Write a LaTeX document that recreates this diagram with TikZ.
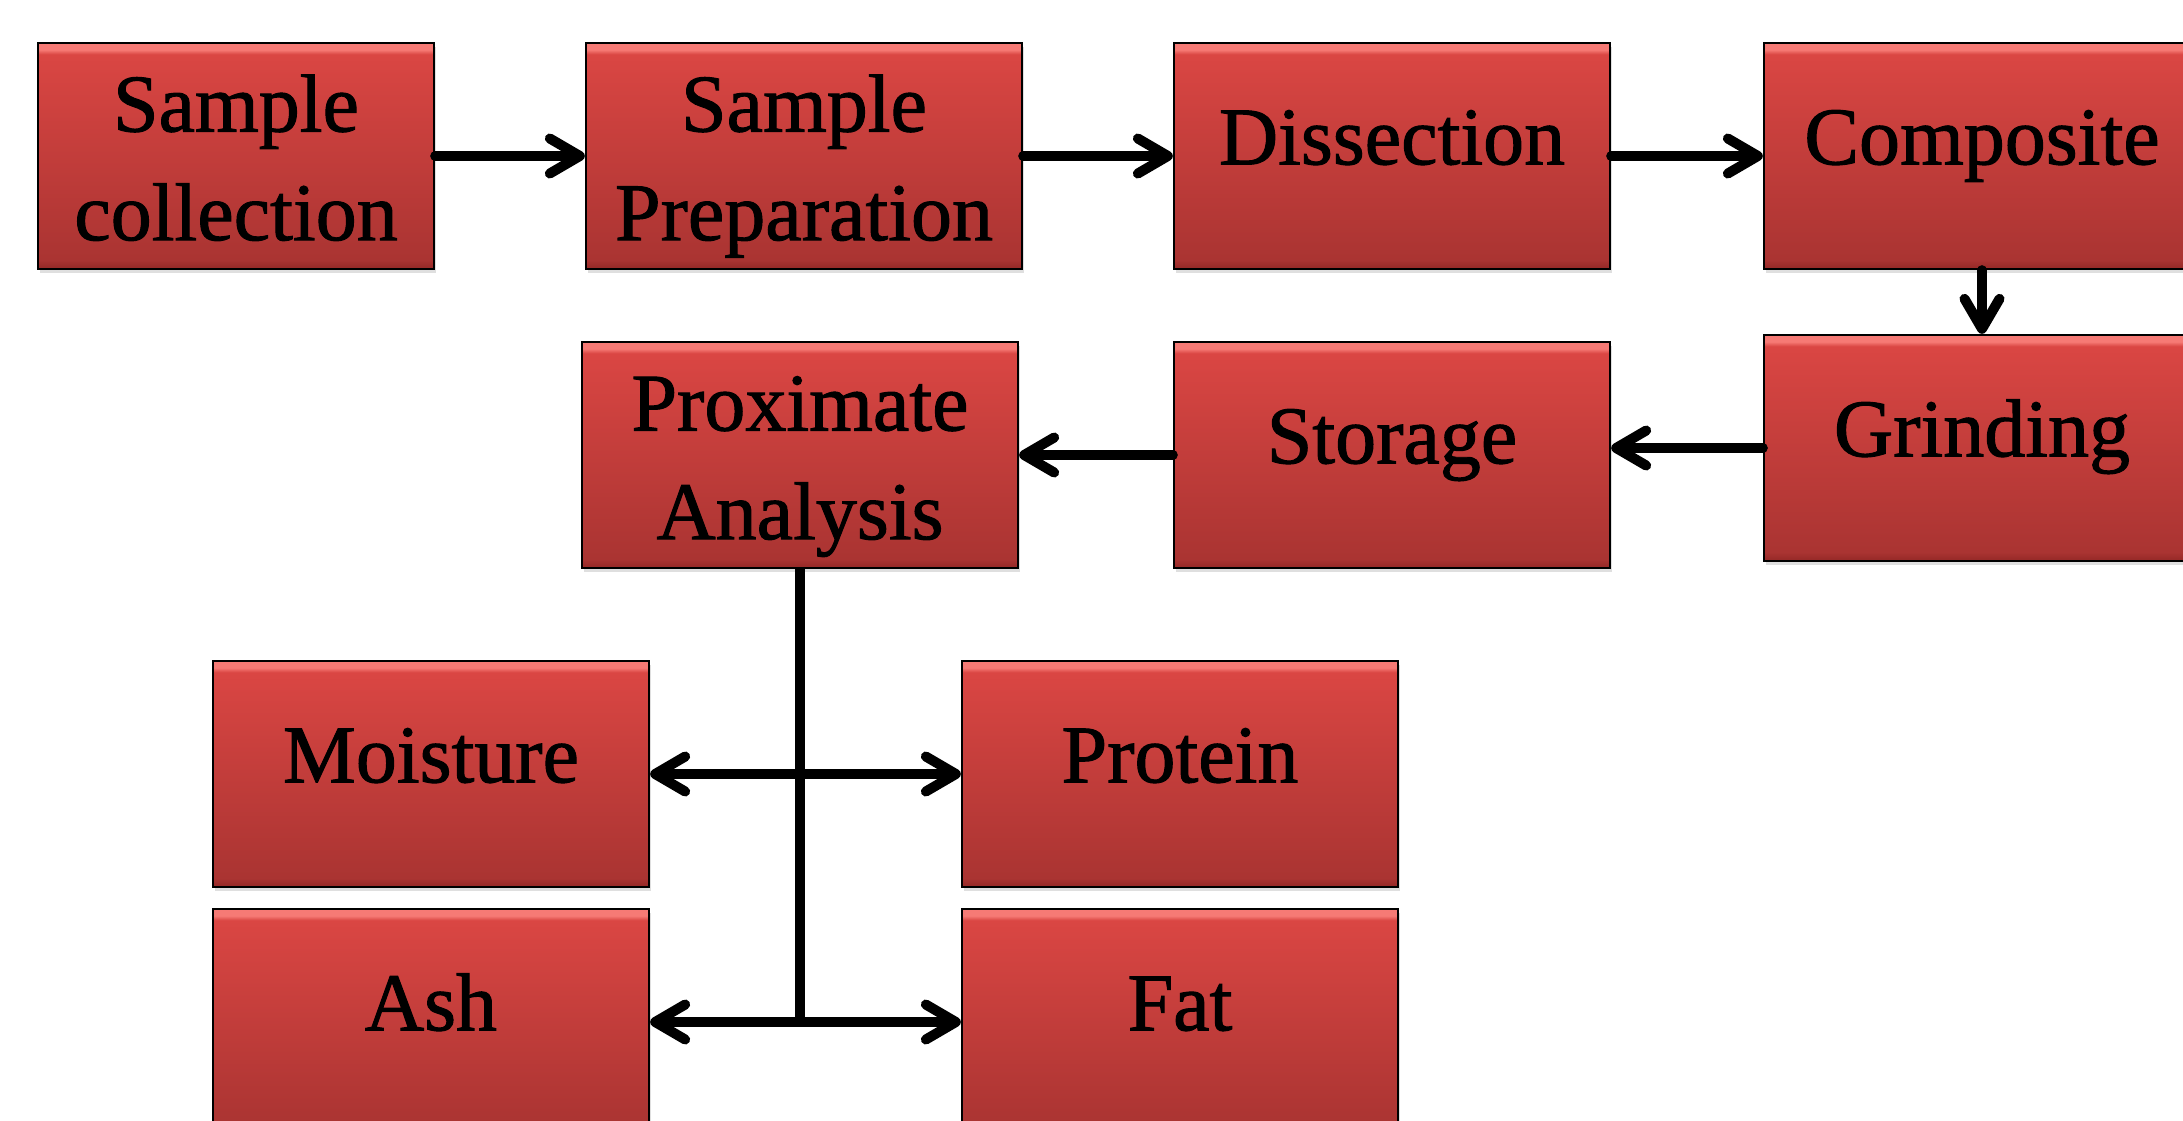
\documentclass[tikz,border=0pt]{standalone}
\usepackage{fontspec}
\setmainfont{Liberation Serif}
\newfontfamily\stagefont{Liberation Serif}[FakeBold=1.2]
\usetikzlibrary{arrows.meta}
\usetikzlibrary{shadows}

\definecolor{bevtop}{RGB}{246,122,117}
\definecolor{boxtop}{RGB}{218,70,67}
\definecolor{boxbot}{RGB}{170,52,50}
\definecolor{bevbot}{RGB}{148,40,38}

\pgfdeclareverticalshading{redbevel}{100bp}{color(0bp)=(bevbot); color(25bp)=(bevbot); color(27bp)=(boxbot); color(72.5bp)=(boxtop); color(73.5bp)=(bevtop); color(75bp)=(bevtop); color(100bp)=(bevtop)}

\begin{document}
\begin{tikzpicture}[x=0.3pt,y=0.3pt,yscale=-1,xscale=1,
  stagebox/.style={draw=black, line width=0.7pt, shading=redbevel,
    minimum width=130.8pt, minimum height=67.8pt, inner sep=0pt, align=center,
    font=\stagefont\fontsize{24.6}{32.6}\selectfont,
    drop shadow={opacity=0.25, shadow xshift=0.6pt, shadow yshift=-1.2pt}},
  oneline/.style={text height=16pt, text depth=11pt},
  twoline/.style={text height=54pt, text depth=3.5pt},
  flow/.style={line width=3pt, line cap=round,
    -{Straight Barb[length=9pt,width=10.5pt,line cap=round,line join=round]}},
  twoway/.style={flow, {Straight Barb[length=9pt,width=10.5pt,line cap=round,line join=round]}-{Straight Barb[length=9pt,width=10.5pt,line cap=round,line join=round]}},
  stem/.style={line width=3pt}
]
\useasboundingbox (0,0) rectangle (2183,1120);
\clip (0,0) rectangle (2183,1120);

%Flowchart: Process -- top row
\node [stagebox, twoline, minimum width=118.8pt] (coll) at (236,156) {Sample\\collection};
\node [stagebox, twoline] (prep) at (804,156) {Sample\\Preparation};
\node [stagebox, oneline] (diss) at (1392,156) {Dissection};
\node [stagebox, oneline] (comp) at (1982,156) {Composite};

%Flowchart: Process -- second row
\node [stagebox, oneline] (grind) at (1982,448) {Grinding};
\node [stagebox, oneline] (stor) at (1392,455) {Storage};
\node [stagebox, twoline] (prox) at (800,455) {Proximate\\Analysis};

%Flowchart: Process -- results
\node [stagebox, oneline] (moist) at (431,774) {Moisture};
\node [stagebox, oneline] (prot) at (1180,774) {Protein};
\node [stagebox, oneline] (ash) at (431,1022) {Ash};
\node [stagebox, oneline] (fat) at (1180,1022) {Fat};

%Straight Lines
\draw [flow] (coll.east) -- (prep.west);
\draw [flow] (prep.east) -- (diss.west);
\draw [flow] (diss.east) -- (comp.west);
\draw [flow] (comp.south) -- (grind.north);
\draw [flow] (grind.west) -- (grind.west -| stor.east);
\draw [flow] (stor.west) -- (prox.east);

%Straight Lines -- branches
\coordinate (junc) at (prox.south |- ash.east);
\draw [stem] (prox.south) -- (junc);
\draw [twoway] (moist.east) -- (prot.west);
\draw [flow] (junc) -- (ash.east);
\draw [flow] (junc) -- (fat.west);

\end{tikzpicture}
\end{document}
